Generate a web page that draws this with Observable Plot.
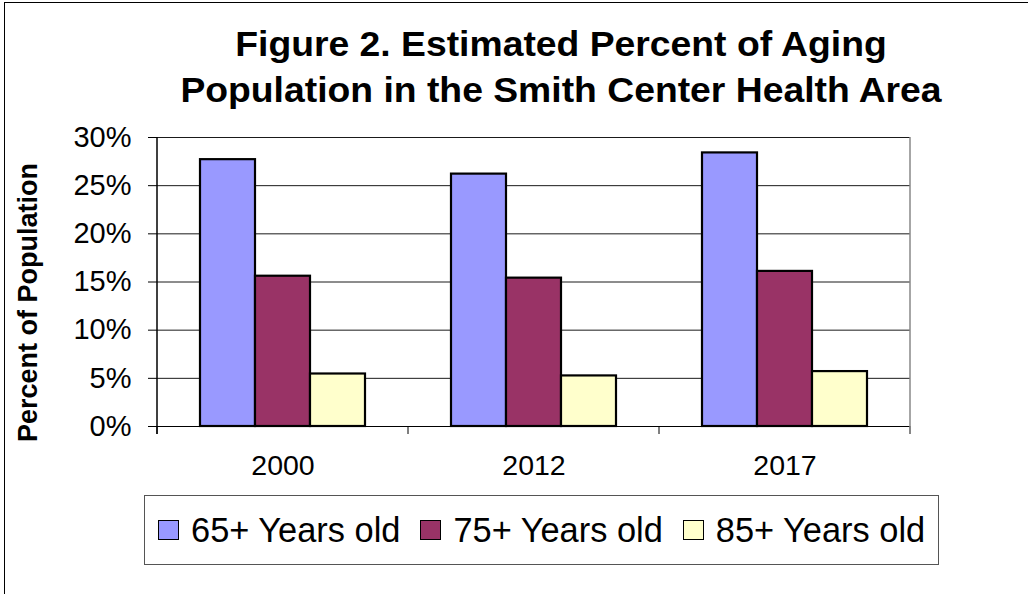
<!DOCTYPE html>
<html>
<head>
<meta charset="utf-8">
<script src="https://cdn.jsdelivr.net/npm/d3@7"></script>
<script src="https://cdn.jsdelivr.net/npm/@observablehq/plot@0.6"></script>
<style>
  html, body { margin: 0; padding: 0; background: #fff; overflow: hidden; width: 1028px; height: 594px; }
  body { position: relative; font-family: "Liberation Sans", Arial, sans-serif; color: #000; }
  #frame { position: absolute; left: 4px; top: 2px; width: 1200px; height: 800px; border-left: 1.5px solid #000; border-top: 1.5px solid #000; }
  .tline { position: absolute; left: 0; width: 1124px; margin-left: -1px; text-align: center; font-weight: bold; font-size: 37.3px; line-height: 42px; white-space: nowrap; transform: scaleY(0.92); transform-origin: center; }
  #ylabel { position: absolute; left: -172px; width: 400px; height: 31px; top: 287px; font-weight: bold; font-size: 27px; line-height: 31px; text-align: center; transform: rotate(-90deg); transform-origin: center; white-space: nowrap; }
  #chart { position: absolute; left: 0; top: 120px; }
  #legend { position: absolute; left: 144px; top: 495px; width: 793px; height: 68px; border: 1px solid #555; display: flex; align-items: center; box-sizing: content-box; }
  .item { display: flex; align-items: center; margin-left: 13px; }
  .item + .item { margin-left: 20px; }
  .sw { width: 19px; height: 18px; border: 1.5px solid #000; margin-right: 12px; }
  .lab { font-size: 34.4px; line-height: 35px; white-space: nowrap; }
</style>
</head>
<body>
<div id="frame"></div>
<div class="tline" style="top:23px">Figure 2. Estimated Percent of Aging</div>
<div class="tline" style="top:69px">Population in the Smith Center Health Area</div>
<div id="ylabel">Percent of Population</div>
<div id="chart"></div>
<div id="legend"></div>
<script>
// ---- data ----
const years = ["2000", "2012", "2017"];
const series = ["65+ Years old", "75+ Years old", "85+ Years old"];
const age65 = [27.7, 26.2, 28.4];
const age75 = [15.6, 15.4, 16.1];
const age85 = [5.45, 5.25, 5.7];
const colors = ["#9999FF", "#993366", "#FFFFCC"];
const yTicks = [0, 5, 10, 15, 20, 25, 30];

const seriesValues = [age65, age75, age85];
const data = years.flatMap((year, i) =>
  series.map((s, j) => ({ year, series: s, value: seriesValues[j][i] }))
);

const plot = Plot.plot({
  width: 1028,
  height: 360,
  marginTop: 17,
  marginBottom: 54,
  marginLeft: 156,
  marginRight: 117,
  style: { fontFamily: "'Liberation Sans', Arial, sans-serif", color: "#000", background: "transparent", overflow: "visible" },
  fx: { domain: years, padding: 0, label: null },
  x: { domain: series, paddingInner: 0, paddingOuter: 0.75, axis: null },
  y: { domain: [0, 30], label: null },
  color: { domain: series, range: colors },
  marks: [
    Plot.gridY(yTicks, { stroke: "#1a1a1a", strokeOpacity: 1, strokeWidth: 1 }),
    Plot.barY(data, { fx: "year", x: "series", y: "value", fill: "series", stroke: "#000", strokeWidth: 2.2 }),
    Plot.ruleY([0], { stroke: "#000", strokeWidth: 1.2 }),
    Plot.axisY(yTicks, { tickFormat: d => d + "%", tickSize: 9, tickPadding: 17, fontSize: 29, label: null }),
    Plot.axisFx({ anchor: "bottom", tickSize: 0, tickPadding: 28, fontSize: 28.5, label: null })
  ]
});

document.getElementById("chart").appendChild(plot);

// axis line, plot-area right edge and category boundary ticks, from Plot's own scales
const fx = plot.scale("fx");
const y = plot.scale("y");
const y0 = y.apply(0), yTop = y.apply(30);
const bw = fx.bandwidth;
const starts = years.map(d => fx.apply(d));
const edges = [...starts, starts[starts.length - 1] + bw];
const svg = d3.select(plot);
const g = svg.append("g");
g.selectAll("line.b").data(edges).join("line")
  .attr("x1", d => d).attr("x2", d => d)
  .attr("y1", y0).attr("y2", y0 + 8)
  .attr("stroke", "#000").attr("stroke-width", 1);
g.append("line").attr("x1", edges[0]).attr("x2", edges[0]).attr("y1", yTop).attr("y2", y0 + 8)
  .attr("stroke", "#000").attr("stroke-width", 1.5);
g.append("line").attr("x1", edges[edges.length - 1]).attr("x2", edges[edges.length - 1]).attr("y1", yTop).attr("y2", y0 + 8)
  .attr("stroke", "#888").attr("stroke-width", 1.5);

// legend
const legend = d3.select("#legend");
series.forEach((s, i) => {
  const item = legend.append("div").attr("class", "item");
  item.append("div").attr("class", "sw").style("background", colors[i]);
  item.append("span").attr("class", "lab").text(s);
});
</script>
</body>
</html>
